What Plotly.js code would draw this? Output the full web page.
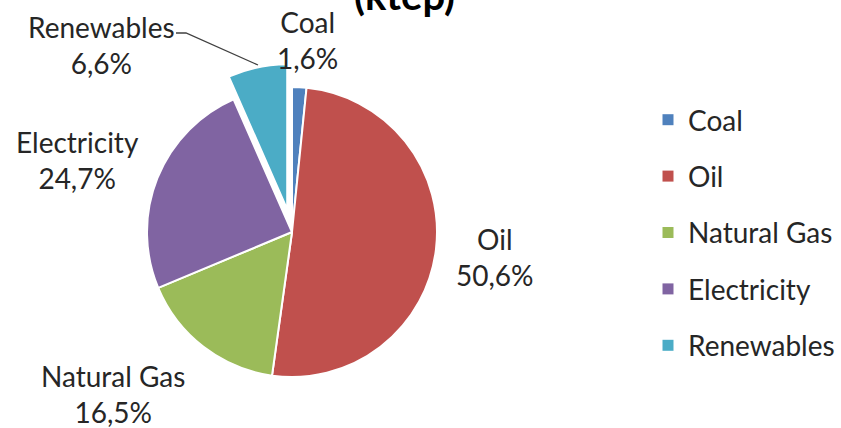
<!DOCTYPE html>
<html>
<head>
<meta charset="utf-8">
<script src="https://cdn.plot.ly/plotly-3.0.1.min.js"></script>
<style>html,body{margin:0;padding:0;background:#fff;}#chart{width:841px;height:428px;}</style>
</head>
<body>
<div id="chart"></div>
<script>
// Data
const categories = ["Coal", "Oil", "Natural Gas", "Electricity", "Renewables"];
const shares = [1.6, 50.6, 16.5, 24.7, 6.6];
const colors = ["#4F81BD", "#C0504D", "#9BBB59", "#8064A2", "#4BACC6"];
const pulls = [0, 0, 0, 0, 0.16];
const titleText = "(ktep)";

const W = 841, H = 428;
const px = x => x / W;
const py = y => 1 - y / H;
const FONT = "Lato, 'Open Sans', sans-serif";

// label positions (pixel centres of each two-line label)
const labelPos = [[307, 40], [495, 257], [113, 394], [77, 160], [101, 45]];

function fmt(v) { return v.toFixed(1).replace('.', ',') + '%'; }

const traces = [{
  type: 'pie',
  labels: categories,
  values: shares,
  sort: false,
  direction: 'clockwise',
  rotation: 0,
  pull: pulls,
  textinfo: 'none',
  hoverinfo: 'label+percent',
  showlegend: false,
  marker: {colors: colors, line: {color: '#ffffff', width: 2}},
  domain: {x: [px(123.8), px(460.2)], y: [py(400.2), py(63.8)]}
}];

// legend entries
categories.forEach((c, i) => {
  traces.push({
    type: 'scatter', mode: 'markers', x: [null], y: [null],
    name: c, legendgroup: 'g' + i, showlegend: true,
    marker: {symbol: 'square', size: 11, color: colors[i]},
    hoverinfo: 'skip'
  });
});

const annotations = categories.map((c, i) => ({
  xref: 'paper', yref: 'paper',
  x: px(labelPos[i][0]), y: py(labelPos[i][1]),
  xanchor: 'center', yanchor: 'middle',
  text: c + '<br>' + fmt(shares[i]),
  showarrow: false,
  font: {family: FONT, size: 28, color: '#262626'}
}));

annotations.push({
  xref: 'paper', yref: 'paper',
  x: px(404), y: py(-5), xanchor: 'center', yanchor: 'middle',
  text: '<b>' + titleText + '</b>', showarrow: false,
  font: {family: FONT, size: 40, color: '#000000'}
});

const layout = {
  width: W, height: H,
  margin: {l: 0, r: 0, t: 0, b: 0},
  paper_bgcolor: '#ffffff', plot_bgcolor: 'rgba(0,0,0,0)',
  xaxis: {visible: false}, yaxis: {visible: false},
  showlegend: true,
  legend: {
    x: px(648), y: py(95), xanchor: 'left', yanchor: 'top',
    font: {family: FONT, size: 28, color: '#262626'},
    tracegroupgap: 17, bgcolor: 'rgba(0,0,0,0)', itemclick: false
  },
  annotations: annotations,
  shapes: [{
    type: 'path', xref: 'paper', yref: 'paper',
    path: 'M ' + px(176) + ',' + py(33) + ' L ' + px(186) + ',' + py(33) + ' L ' + px(258) + ',' + py(65),
    line: {color: '#404040', width: 1.3}
  }]
};

Plotly.newPlot('chart', traces, layout, {displayModeBar: false, staticPlot: true});
</script>
</body>
</html>
